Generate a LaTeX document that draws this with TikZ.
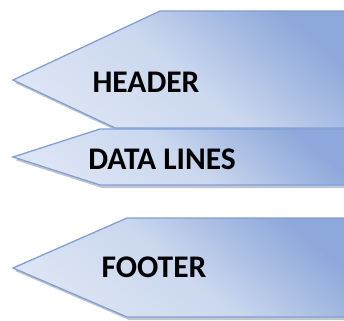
\documentclass[tikz,border=0pt]{standalone}
\usepackage{fontspec}
\setmainfont{Carlito}
\definecolor{edgeblue}{HTML}{7FA0D9}
\definecolor{darkfill}{HTML}{8DA8DA}
\definecolor{midfill}{HTML}{CAD7EE}
\definecolor{lightfill}{HTML}{DCE5F4}
\definecolor{shadowgray}{HTML}{8C8C8C}
\tikzset{
  chevron/.style={draw=edgeblue, line width=1.3pt, line join=miter,
    top color=darkfill, bottom color=lightfill, middle color=midfill, shading angle=-40},
  chevshadow/.style={fill=shadowgray, opacity=0.5},
  lbl/.style={font=\fontsize{31.5}{34}\selectfont\bfseries, text=black, inner sep=0pt}
}
\begin{document}
\begin{tikzpicture}[x=1pt,y=-1pt]
\useasboundingbox (0,0) rectangle (344,320);
% header
\fill[chevshadow] (162,13) -- (15,83) -- (117,131) -- (350,131) -- (350,13) -- cycle;
\draw[chevron] (160,11) -- (13,80) -- (115,128) -- (350,128) -- (350,11) -- cycle;
\node[lbl] (header) at (146,82) {HEADER};
% data lines
\fill[chevshadow] (102,131) -- (15,160) -- (102,188) -- (350,188) -- (350,131) -- cycle;
\draw[chevron] (100,129) -- (13,157) -- (100,185) -- (350,185) -- (350,129) -- cycle;
\node[lbl] (data) at (162,159) {DATA LINES};
% footer
\fill[chevshadow] (129,221) -- (15,271) -- (129,320) -- (350,320) -- (350,221) -- cycle;
\draw[chevron] (127,218) -- (13,268) -- (127,317) -- (350,317) -- (350,218) -- cycle;
\node[lbl] (footer) at (154,267) {FOOTER};
\end{tikzpicture}
\end{document}
